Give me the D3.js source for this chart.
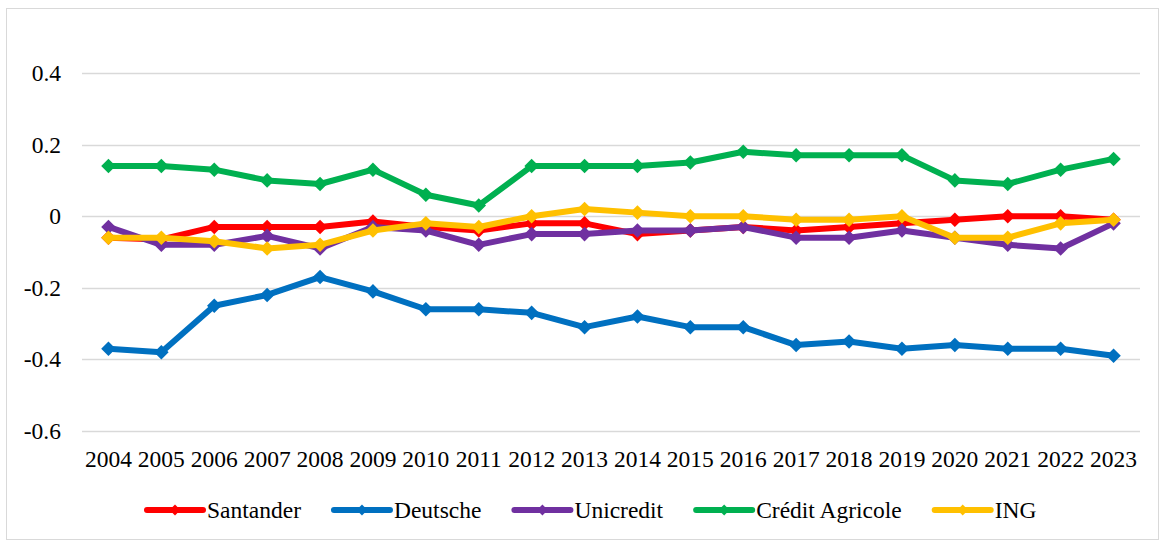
<!DOCTYPE html>
<html>
<head>
<meta charset="utf-8">
<script src="https://cdn.jsdelivr.net/npm/d3@7"></script>
<style>
  body { margin: 0; background: #fff; }
</style>
</head>
<body>
<div id="chart-container"></div>
<script>
const width = 1161;
const height = 540;

const years = d3.range(2004, 2024).map(String);
const yTicks = [0.4, 0.2, 0, -0.2, -0.4, -0.6];

const santander = [-0.06, -0.065, -0.03, -0.03, -0.03, -0.015, -0.03, -0.04, -0.02, -0.02,
                   -0.05, -0.04, -0.03, -0.04, -0.03, -0.02, -0.01, 0.00, 0.00, -0.01];
const deutsche = [-0.37, -0.38, -0.25, -0.22, -0.17, -0.21, -0.26, -0.26, -0.27, -0.31,
                  -0.28, -0.31, -0.31, -0.36, -0.35, -0.37, -0.36, -0.37, -0.37, -0.39];
const unicredit = [-0.03, -0.08, -0.08, -0.055, -0.09, -0.03, -0.04, -0.08, -0.05, -0.05,
                   -0.04, -0.04, -0.03, -0.06, -0.06, -0.04, -0.06, -0.08, -0.09, -0.02];
const creditAgricole = [0.14, 0.14, 0.13, 0.10, 0.09, 0.13, 0.06, 0.03, 0.14, 0.14,
                        0.14, 0.15, 0.18, 0.17, 0.17, 0.17, 0.10, 0.09, 0.13, 0.16];
const ing = [-0.06, -0.06, -0.07, -0.09, -0.08, -0.04, -0.02, -0.03, 0.00, 0.02,
             0.01, 0.00, 0.00, -0.01, -0.01, 0.00, -0.06, -0.06, -0.02, -0.01];

const seriesNames = ["Santander", "Deutsche", "Unicredit", "Crédit Agricole", "ING"];
const seriesValues = [santander, deutsche, unicredit, creditAgricole, ing];
const colors = ["#ff0000", "#0070c0", "#7030a0", "#00b050", "#ffc000"];

const series = seriesNames.map((name, i) => ({ name, values: seriesValues[i], color: colors[i] }));

const font = "Liberation Serif";
const fontSize = 23.5;
const margin = { left: 82, right: 21 };
const x = d3.scaleBand(years, [margin.left, width - margin.right]);
const y = d3.scaleLinear([-0.6, 0.4], [431, 73]);

const svg = d3.select("#chart-container")
    .append("svg")
    .attr("width", width)
    .attr("height", height)
    .attr("viewBox", [0, 0, width, height])
    .attr("font-family", font);

// chart border
svg.append("rect")
    .attr("x", 6.5).attr("y", 8.5)
    .attr("width", width - 9).attr("height", height - 9)
    .attr("fill", "none")
    .attr("stroke", "#d9d9d9")
    .attr("stroke-width", 1);

// gridlines
svg.append("g")
    .selectAll("line")
    .data(yTicks)
    .join("line")
    .attr("x1", margin.left)
    .attr("x2", width - margin.right)
    .attr("y1", d => Math.round(y(d)) + 0.5)
    .attr("y2", d => Math.round(y(d)) + 0.5)
    .attr("stroke", "#d9d9d9")
    .attr("stroke-width", 1.5);

// y axis labels, plain hyphen like the original
const yAxis = d3.axisLeft(y).tickValues(yTicks).tickSize(0).tickPadding(21)
    .tickFormat(d => d === 0 ? "0" : d.toFixed(1));
svg.append("g")
    .attr("transform", `translate(${margin.left},0)`)
    .call(yAxis)
    .call(g => g.select(".domain").remove())
    .call(g => g.attr("font-family", font).attr("font-size", fontSize))
    .call(g => g.selectAll("text").attr("fill", "#000"));

// x axis labels
const xAxis = d3.axisBottom(x).tickSize(0).tickPadding(9);
svg.append("g")
    .attr("transform", `translate(0,441)`)
    .call(xAxis)
    .call(g => g.select(".domain").remove())
    .call(g => g.attr("font-family", font).attr("font-size", fontSize))
    .call(g => g.selectAll("text").attr("fill", "#000"));

const cx = d => x(d) + x.bandwidth() / 2;
const line = d3.line()
    .x((d, i) => cx(years[i]))
    .y(d => y(d));

const diamond = d3.symbol().type(d3.symbolDiamond2);

const g = svg.append("g");
series.forEach(s => {
    g.append("path")
        .attr("d", line(s.values))
        .attr("fill", "none")
        .attr("stroke", s.color)
        .attr("stroke-width", 6)
        .attr("stroke-linejoin", "round");
    g.append("g")
        .selectAll("path")
        .data(s.values)
        .join("path")
        .attr("transform", (d, i) => `translate(${cx(years[i])},${y(d)})`)
        .attr("d", diamond.size(135)())
        .attr("fill", s.color);
});

// legend, laid out left to right from measured text widths
const legendY = 510;
const legend = svg.append("g");
let lx = 147;
series.forEach(s => {
    const item = legend.append("g").attr("transform", `translate(${lx},${legendY})`);
    item.append("line")
        .attr("x1", 0).attr("x2", 56)
        .attr("stroke", s.color)
        .attr("stroke-width", 6)
        .attr("stroke-linecap", "round");
    item.append("path")
        .attr("transform", "translate(28,0)")
        .attr("d", diamond.size(75)())
        .attr("fill", s.color);
    const t = item.append("text")
        .attr("x", 60)
        .attr("y", 8)
        .attr("font-size", fontSize)
        .attr("fill", "#000")
        .text(s.name);
    lx += 60 + t.node().getComputedTextLength() + 33;
});
</script>
</body>
</html>
